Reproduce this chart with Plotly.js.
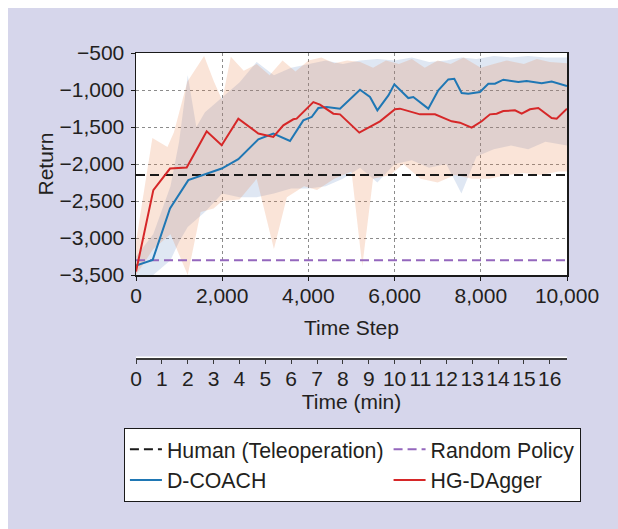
<!DOCTYPE html>
<html>
<head>
<meta charset="utf-8">
<script src="https://cdn.plot.ly/plotly-3.0.1.min.js"></script>
<style>
  html, body { margin: 0; padding: 0; background: #ffffff; }
  #chart { position: absolute; left: 8px; top: 8px; width: 610px; height: 521px; }
</style>
</head>
<body>
<div id="chart"></div>
<script>
// ---- data ----
const humanReturn = -2150;
const randomReturn = -3300;
const baseX = [0, 10000];

const dcoachX = [0, 387, 789, 1214, 1988, 2374, 2838, 3186, 3573, 3882, 4076, 4230, 4424, 4733, 5197, 5429, 5600, 5856, 5994, 6318, 6434, 6589, 6782, 7014, 7246, 7385, 7556, 7710, 7981, 8174, 8329, 8522, 8870, 9064, 9412, 9644, 10000];
const dcoachY = [-3373, -3296, -2600, -2218, -2061, -1935, -1666, -1589, -1689, -1410, -1365, -1244, -1230, -1252, -996, -1095, -1275, -1073, -924, -1109, -1095, -1163, -1252, -1005, -857, -848, -1041, -1050, -1028, -915, -915, -861, -893, -880, -907, -884, -947];

const hgX = [0, 402, 789, 1176, 1485, 1640, 1988, 2374, 2838, 3186, 3418, 3650, 3727, 4114, 4269, 4579, 4733, 5181, 5661, 6009, 6125, 6589, 6937, 7324, 7517, 7788, 8020, 8213, 8368, 8522, 8793, 8948, 9141, 9334, 9644, 9760, 10000];
const hgY = [-3454, -2353, -2061, -2047, -1724, -1558, -1747, -1387, -1589, -1635, -1477, -1396, -1387, -1163, -1198, -1320, -1329, -1576, -1423, -1261, -1252, -1329, -1329, -1423, -1441, -1508, -1423, -1329, -1320, -1284, -1275, -1320, -1261, -1244, -1379, -1387, -1252];

// shaded spread of D-COACH
const dcoachBandX = [0, 400, 800, 1000, 1200, 1400, 1600, 2000, 2400, 2800, 3200, 3600, 4000, 4400, 4800, 5200, 5600, 6000, 6400, 6800, 7200, 7550, 7900, 8300, 8700, 9100, 9500, 10000];
const dcoachUpper = [-3250, -2950, -2300, -1700, -800, -1500, -1300, -1100, -900, -620, -800, -700, -650, -600, -650, -600, -580, -600, -560, -620, -600, -560, -580, -540, -560, -540, -560, -560];
const dcoachLower = [-3500, -3500, -3300, -3050, -2850, -2750, -2650, -2400, -2450, -2450, -2400, -2330, -2330, -2300, -2200, -2050, -2250, -2000, -1950, -2050, -2000, -2400, -1900, -1800, -1750, -1800, -1700, -1750];

// shaded spread of HG-DAgger
const hgUpperX = [0, 380, 730, 880, 1190, 1580, 1810, 2000, 2200, 2500, 2800, 3100, 3400, 3700, 4000, 4300, 4600, 4900, 5200, 5500, 5800, 6100, 6400, 6700, 7000, 7300, 7600, 8000, 8300, 8600, 9000, 9300, 9600, 10000];
const hgUpper = [-3050, -1650, -1770, -1570, -890, -540, -890, -1140, -550, -740, -650, -800, -600, -750, -600, -560, -640, -600, -620, -700, -600, -650, -580, -700, -600, -650, -560, -700, -650, -600, -650, -580, -620, -640];
const hgLowerX = [0, 400, 800, 1200, 1500, 1800, 2000, 2400, 2800, 3200, 3500, 3900, 4200, 4600, 5000, 5250, 5500, 5900, 6200, 6600, 7000, 7400, 7800, 8200, 8600, 9000, 9400, 9800, 10000];
const hgLower = [-3500, -3150, -2950, -3500, -2650, -2600, -2500, -2480, -2200, -3150, -2450, -2300, -2350, -2200, -2100, -3380, -2200, -2150, -2000, -2200, -2250, -2150, -2200, -2200, -2150, -2120, -2150, -2100, -2100];

const minutesTicks = [0,1,2,3,4,5,6,7,8,9,10,11,12,13,14,15,16];
const stepsPerMinute = 600;

// ---- build ----
const FONT = 'Liberation Sans, Arial, Helvetica, sans-serif';
const TXT = '#231f20';

const traces = [
  // D-COACH band
  { x: dcoachBandX, y: dcoachLower, mode: 'lines', line: { width: 0, color: 'rgba(0,0,0,0)' }, showlegend: false, hoverinfo: 'skip' },
  { x: dcoachBandX, y: dcoachUpper, mode: 'lines', fill: 'tonexty', fillcolor: 'rgba(97,135,195,0.2)', line: { width: 0, color: 'rgba(0,0,0,0)' }, showlegend: false, hoverinfo: 'skip' },
  // HG-DAgger band (closed polygon: upper forward, lower backward)
  { x: hgUpperX.concat(hgLowerX.slice().reverse()), y: hgUpper.concat(hgLower.slice().reverse()), mode: 'lines', fill: 'toself', fillcolor: 'rgba(232,120,60,0.2)', line: { width: 0, color: 'rgba(0,0,0,0)' }, showlegend: false, hoverinfo: 'skip' },
  { x: baseX, y: baseX.map(() => humanReturn), mode: 'lines', name: 'Human (Teleoperation)', line: { color: '#1a1a1a', width: 2, dash: '9px,5px' } },
  { x: baseX, y: baseX.map(() => randomReturn), mode: 'lines', name: 'Random Policy', line: { color: '#9467bd', width: 2, dash: '9px,5px' } },
  { x: dcoachX, y: dcoachY, mode: 'lines', name: 'D-COACH', line: { color: '#1f77b4', width: 2 } },
  { x: hgX, y: hgY, mode: 'lines', name: 'HG-DAgger', line: { color: '#d62728', width: 2 } },
  // invisible trace to activate the minutes axis
  { x: [0, 10000 / stepsPerMinute], y: [0, 0], xaxis: 'x2', yaxis: 'y2', mode: 'lines', line: { width: 0, color: 'rgba(0,0,0,0)' }, showlegend: false, hoverinfo: 'skip' }
];

const layout = {
  width: 610, height: 521,
  margin: { l: 128, r: 51, t: 45, b: 171 },
  paper_bgcolor: '#d6d6eb',
  plot_bgcolor: '#ffffff',
  font: { family: FONT, size: 21, color: TXT },
  showlegend: true,
  xaxis: {
    anchor: 'y', range: [0, 10000], tickmode: 'array', tickvals: [0,2000,4000,6000,8000,10000],
    tickformat: ',d', showline: true, mirror: true, linecolor: '#1a1a1a', linewidth: 1.5,
    ticks: 'outside', ticklen: 4, tickcolor: '#1a1a1a', ticklabelstandoff: -3,
    showgrid: true, gridcolor: '#8c8c8c', griddash: 'dot', gridwidth: 1, zeroline: false,
    title: { text: 'Time Step', font: { size: 21, color: TXT }, standoff: 14 }
  },
  yaxis: {
    domain: [0.2721, 1], range: [-3500, -500], tickmode: 'array', tickvals: [-3500,-3000,-2500,-2000,-1500,-1000,-500],
    tickformat: ',d', showline: true, mirror: true, linecolor: '#1a1a1a', linewidth: 1.5,
    ticks: 'outside', ticklen: 4, tickcolor: '#1a1a1a', ticklabelstandoff: 2,
    showgrid: true, gridcolor: '#8c8c8c', griddash: 'dot', gridwidth: 1, zeroline: false,
    title: { text: 'Return', font: { size: 21, color: TXT } }
  },
  xaxis2: {
    anchor: 'y2', range: [0, 10000 / stepsPerMinute], tickmode: 'array', tickvals: minutesTicks,
    showline: true, linecolor: '#3a3a3a', linewidth: 1.5, ticks: 'outside', ticklen: 4, tickcolor: '#3a3a3a',
    ticklabelstandoff: -3,
    showgrid: false, zeroline: false,
    title: { text: 'Time (min)', font: { size: 21, color: TXT }, standoff: 3 }
  },
  yaxis2: { domain: [0, 0.005], visible: false, range: [0, 1] },
  legend: {
    orientation: 'h', x: -0.028, xanchor: 'left', y: -0.2295, yanchor: 'top',
    bgcolor: '#ffffff', bordercolor: '#1a1a1a', borderwidth: 1, itemwidth: 32,
    font: { family: FONT, size: 21.3, color: TXT }, traceorder: 'normal'
  }
};

Plotly.newPlot('chart', traces, layout, { displayModeBar: false, staticPlot: true });
</script>
</body>
</html>
